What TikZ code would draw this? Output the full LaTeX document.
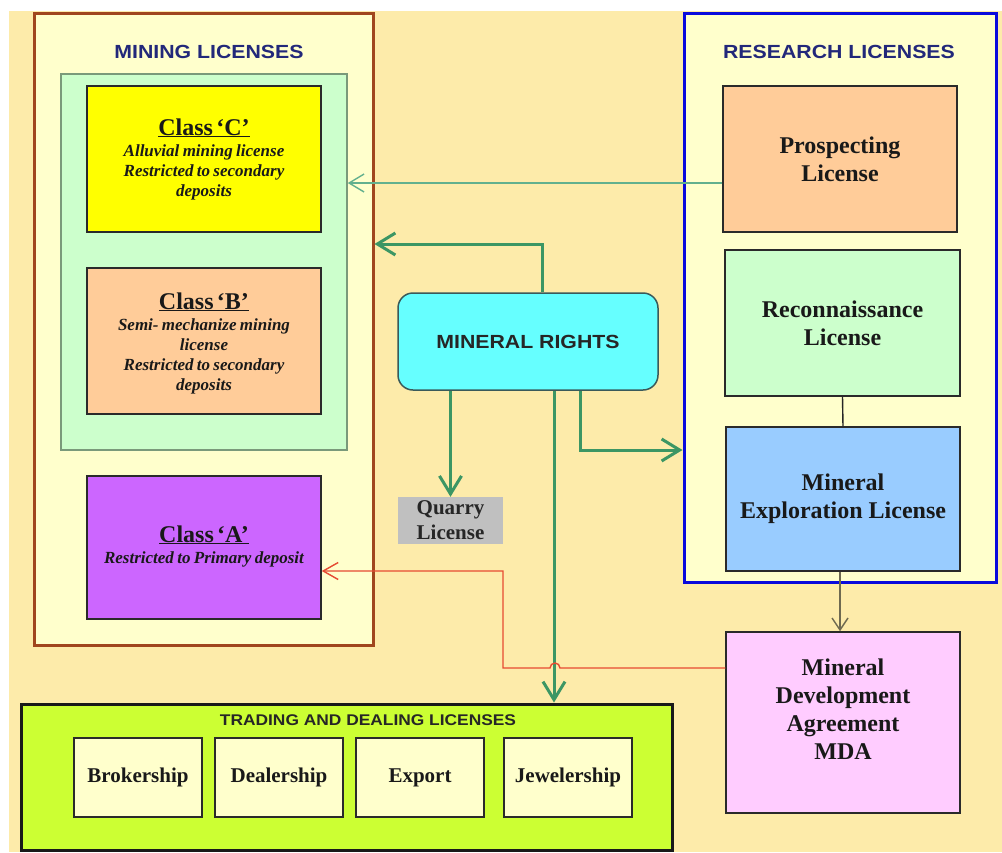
\documentclass[tikz,border=0pt]{standalone}
\usepackage{fontspec}
\setmainfont{Liberation Serif}
\newfontfamily\hsans[FakeStretch=1.12]{Liberation Sans}
\usetikzlibrary{arrows.meta}
\definecolor{bgc}{HTML}{FDEBAA}
\definecolor{paleyel}{HTML}{FFFFCC}
\definecolor{brownb}{HTML}{A0461E}
\definecolor{navyt}{HTML}{22287A}
\definecolor{blueb}{HTML}{0A0ADC}
\definecolor{greenbox}{HTML}{CCFFCC}
\definecolor{greenboxb}{HTML}{7A9A7A}
\definecolor{classc}{HTML}{FFFF00}
\definecolor{classb}{HTML}{FFCC99}
\definecolor{classa}{HTML}{CC66FF}
\definecolor{explc}{HTML}{99CCFF}
\definecolor{mdac}{HTML}{FFCCFF}
\definecolor{mrc}{HTML}{66FFFF}
\definecolor{mrb}{HTML}{3A5A5A}
\definecolor{quarryc}{HTML}{C0C0C0}
\definecolor{tradec}{HTML}{CCFF33}
\definecolor{boxline}{HTML}{2A2A2A}
\definecolor{garc}{HTML}{3C9664}
\definecolor{tgarc}{HTML}{62B08E}
\definecolor{redc}{HTML}{E64B32}
\definecolor{grayarc}{HTML}{6E6950}
\newcommand{\ctitlefont}{\upshape\fontsize{24}{26}\selectfont}
\newcommand{\csubfont}{\itshape\fontsize{17}{20}\selectfont}
\begin{document}
\begin{tikzpicture}[x=1pt,y=-1pt,
  box/.style={draw=boxline, line width=1.5pt, inner sep=2pt, align=center,
    font=\bfseries\fontsize{24}{28}\selectfont, text=black!90},
  panel/.style={line width=3pt},
  ctitle/.style={align=center, text=black!90, text width=230pt, font=\bfseries},
  sanstitle/.style={font=\hsans\bfseries\fontsize{19}{22}\selectfont, text=navyt},
  gar/.style={draw=garc, line width=3pt, -{Straight Barb[length=18pt,width=22pt]}},
  tgar/.style={draw=tgarc, line width=1.4pt, -{Straight Barb[length=15pt,width=18pt]}},
  redar/.style={draw=redc, line width=1.4pt, -{Straight Barb[length=15pt,width=17pt]}},
  grayar/.style={draw=grayarc, line width=1.4pt, -{Straight Barb[length=12pt,width=16pt]}}
]
\useasboundingbox (0,0) rectangle (1002,852);
\fill[white] (0,0) rectangle (1002,852);
\fill[bgc] (9,11) rectangle (1002,852);

% Mining licenses panel
\node[panel, draw=brownb, fill=paleyel, minimum width=339, minimum height=632] (mining) at (203.5,329) {};
\node[sanstitle] (mintitle) at (209,52) {MINING LICENSES};
\node[draw=greenboxb, line width=1.5pt, fill=greenbox, minimum width=286, minimum height=376] (gbox) at (204,262) {};
\node[box, fill=classc, minimum width=234, minimum height=146] (classC) at (204,159) {};
\node[ctitle] (classCt) at (204,159) {\ctitlefont\underline{Class ‘C’}\par\vspace{1pt}\csubfont Alluvial mining license\\Restricted to secondary\\deposits\par};
\node[box, fill=classb, minimum width=234, minimum height=146] (classB) at (204,341) {};
\node[ctitle] (classBt) at (204,343) {\ctitlefont\underline{Class ‘B’}\par\vspace{1pt}\csubfont Semi- mechanize mining\\license\\Restricted to secondary\\deposits\par};
\node[box, fill=classa, minimum width=234, minimum height=143] (classA) at (204,547.5) {};
\node[ctitle] (classAt) at (204,546) {\ctitlefont\underline{Class ‘A’}\par\vspace{1pt}\csubfont Restricted to Primary deposit\par};

% Research licenses panel
\node[panel, draw=blueb, fill=paleyel, minimum width=312, minimum height=569] (research) at (840,297.5) {};
\node[sanstitle] (restitle) at (839,52) {RESEARCH LICENSES};
\node[box, fill=classb, minimum width=234, minimum height=146] (pros) at (840,159) {Prospecting\\License};
\node[box, fill=greenbox, minimum width=235, minimum height=146] (recon) at (842.5,323) {Reconnaissance\\License};
\node[box, fill=explc, minimum width=234, minimum height=144] (expl) at (843,499) {Mineral\\Exploration License};
\node[box, fill=mdac, minimum width=234, minimum height=181] (mda) at (843,722.5) {};
\node[align=center, text=black!90, font=\bfseries\fontsize{24}{28}\selectfont] (mdat) at (843,709) {Mineral\\Development\\Agreement\\MDA};

% Mineral rights and quarry
\node[draw=mrb, line width=1.5pt, fill=mrc, rounded corners=15pt, minimum width=260, minimum height=97,
  font=\hsans\bfseries\fontsize{19}{22}\selectfont, text=black!85] (mr) at (528,341.5) {MINERAL RIGHTS};
\node[fill=quarryc, minimum width=105, minimum height=47, inner sep=0pt, align=center,
  font=\bfseries\fontsize{21}{25}\selectfont, text=black!85] (quarry) at (450.5,520.5) {Quarry\\License};

% Trading panel
\node[draw=black!90, line width=3pt, fill=tradec, minimum width=651, minimum height=146] (trading) at (346.5,777) {};
\node[font=\hsans\bfseries\fontsize{15.5}{18}\selectfont, text=black!85] (tradtitle) at (368,720) {TRADING AND DEALING LICENSES};
\node[box, fill=paleyel, minimum width=128, minimum height=79, font=\bfseries\fontsize{21}{25}\selectfont] (brok) at (138,777.5) {Brokership};
\node[box, fill=paleyel, minimum width=128, minimum height=79, font=\bfseries\fontsize{21}{25}\selectfont] (deal) at (279,777.5) {Dealership};
\node[box, fill=paleyel, minimum width=128, minimum height=79, font=\bfseries\fontsize{21}{25}\selectfont] (exp) at (420,777.5) {Export};
\node[box, fill=paleyel, minimum width=128, minimum height=79, font=\bfseries\fontsize{21}{25}\selectfont] (jew) at (568,777.5) {Jewelership};

% Connectors
\draw[tgar] (pros.west |- 0,183) -- (gbox.east |- 0,183);
\draw[gar] (mr.north -| 542,0) |- (mining.east |- 0,244);
\draw[gar] (mr.south -| quarry.north) -- (quarry.north);
\draw[gar] (mr.south -| 580,0) |- (research.west |- 0,450);
\draw[gar] (mr.south -| 554,0) -- (trading.north -| 554,0);
\draw[draw=black!85, line width=1.4pt] (recon.south) -- (expl.north);
\draw[grayar] (expl.south -| 840,0) -- (mda.north -| 840,0);
\draw[redar] (mda.west |- 0,668) -- (560,668) arc[start angle=0, end angle=-180, radius=5] -- (503,668) |- (classA.east |- 0,571);
\end{tikzpicture}
\end{document}
